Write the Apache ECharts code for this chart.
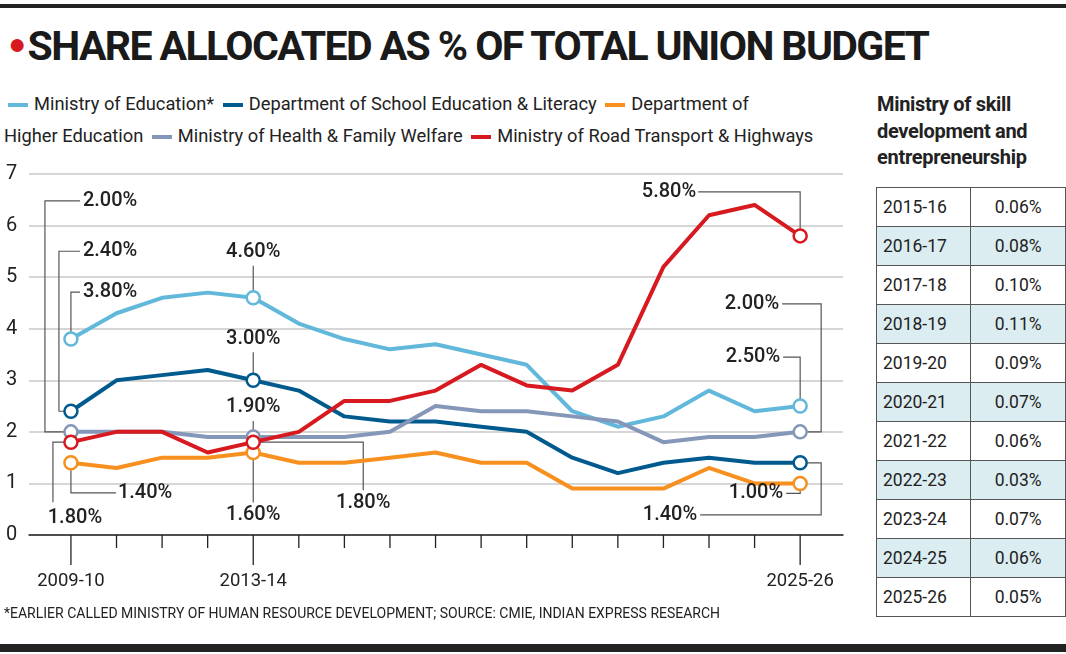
<!DOCTYPE html>
<html><head><meta charset="utf-8">
<script src="https://cdn.jsdelivr.net/npm/echarts@6/dist/echarts.min.js"></script>
<style>
body{margin:0;width:1066px;height:654px;background:#fff;position:relative;overflow:hidden;font-family:Roboto,sans-serif;color:#222}
#topbar{position:absolute;left:0;top:4px;width:1066px;height:4px;background:#222}
#botbar{position:absolute;left:0;top:644px;width:1066px;height:8px;background:#222}
#title{position:absolute;left:8px;top:22px;font:bold 41px Roboto,sans-serif;letter-spacing:-1.6px;color:#1a1a1a;white-space:nowrap}
#title span{color:#d71920;font-size:30px;vertical-align:6px;margin-right:3px}
#legend{position:absolute;left:4px;top:88px;width:850px;font-size:18.3px;line-height:32px;color:#222;white-space:nowrap}
#legend i{display:inline-block;width:20px;height:4px;vertical-align:middle;margin:0 6px 0 4px}
#chart{position:absolute;left:0;top:0;width:860px;height:654px}
#foot{position:absolute;left:4px;top:605px;font-size:14px;color:#222;white-space:nowrap}
#side{position:absolute;left:877px;top:91px;font-weight:bold;font-size:20px;line-height:26.5px;color:#222;letter-spacing:-0.3px}
table{position:absolute;left:876px;top:187px;border-collapse:collapse;font-size:17.5px}
td{border:1px solid #555;height:38px;padding:0 6px;color:#222}
td.v{text-align:center;width:90px}
td.y{width:90px}
tr.alt td{background:#dcedf2}
</style></head><body>
<div id="topbar"></div>
<div id="title"><span>●</span>SHARE ALLOCATED AS % OF TOTAL UNION BUDGET</div>
<div id="legend"></div>
<div id="chart"></div>
<div id="foot">*EARLIER CALLED MINISTRY OF HUMAN RESOURCE DEVELOPMENT; SOURCE: CMIE, INDIAN EXPRESS RESEARCH</div>
<div id="side">Ministry of skill<br>development and<br>entrepreneurship</div>
<table id="tbl"></table>
<div id="botbar"></div>
<script>
const years = ['2009-10','2010-11','2011-12','2012-13','2013-14','2014-15','2015-16','2016-17','2017-18','2018-19','2019-20','2020-21','2021-22','2022-23','2023-24','2024-25','2025-26'];
const tickLabels = {0:'2009-10',4:'2013-14',16:'2025-26'};
const education = [3.8,4.3,4.6,4.7,4.6,4.1,3.8,3.6,3.7,3.5,3.3,2.4,2.1,2.3,2.8,2.4,2.5];
const schoolEd = [2.4,3.0,3.1,3.2,3.0,2.8,2.3,2.2,2.2,2.1,2.0,1.5,1.2,1.4,1.5,1.4,1.4];
const higherEd = [1.4,1.3,1.5,1.5,1.6,1.4,1.4,1.5,1.6,1.4,1.4,0.9,0.9,0.9,1.3,1.0,1.0];
const health = [2.0,2.0,2.0,1.9,1.9,1.9,1.9,2.0,2.5,2.4,2.4,2.3,2.2,1.8,1.9,1.9,2.0];
const road = [1.8,2.0,2.0,1.6,1.8,2.0,2.6,2.6,2.8,3.3,2.9,2.8,3.3,5.2,6.2,6.4,5.8];
const skillYears = ['2015-16','2016-17','2017-18','2018-19','2019-20','2020-21','2021-22','2022-23','2023-24','2024-25','2025-26'];
const skillVals = ['0.06%','0.08%','0.10%','0.11%','0.09%','0.07%','0.06%','0.03%','0.07%','0.06%','0.05%'];

const seriesDefs = [
 {name:'Ministry of Education*', data:education, color:'#62b8da'},
 {name:'Department of School Education & Literacy', data:schoolEd, color:'#005a8e'},
 {name:'Department of Higher Education', data:higherEd, color:'#f7901e'},
 {name:'Ministry of Health & Family Welfare', data:health, color:'#8497b8'},
 {name:'Ministry of Road Transport & Highways', data:road, color:'#d71920'}
];
document.getElementById('legend').innerHTML = seriesDefs.map(s=>'<i style="background:'+s.color+'"></i>'+s.name.replace('of Higher','of<br>Higher')).join(' ');
document.getElementById('tbl').innerHTML = skillYears.map((y,i)=>'<tr class="'+(i%2?'alt':'')+'"><td class="y">'+y+'</td><td class="v">'+skillVals[i]+'</td></tr>').join('');

const annos = [
 [3,0,[[0,0],[-26,0],[-26,-231],[9,-231]],[12,-231],'left'],
 [1,0,[[0,0],[-12,0],[-12,-160],[9,-160]],[12,-160],'left'],
 [0,0,[[0,-7],[0,-47],[9,-47]],[12,-47],'left'],
 [0,4,[[0,-7],[0,-32]],[0,-46],'center'],
 [1,4,[[0,-7],[0,-28]],[0,-41],'center'],
 [3,4,[[0,-7],[0,-16]],[0,-30],'center'],
 [2,4,[[0,7],[0,50]],[0,63],'center'],
 [4,4,[[7,0],[110,0],[110,48]],[110,61],'center'],
 [4,0,[[-7,0],[-18,0],[-18,60]],[4,76],'center'],
 [2,0,[[0,7],[0,30],[45,30]],[47,30],'left'],
 [4,16,[[0,-7],[0,-44],[-102,-44]],[-104,-44],'right'],
 [3,16,[[7,0],[21,0],[21,-128],[-18,-128]],[-21,-128],'right'],
 [0,16,[[0,-7],[0,-49],[-17,-49]],[-20,-49],'right'],
 [1,16,[[7,0],[21,0],[21,52],[-100,52]],[-103,52],'right'],
 [2,16,[[0,7],[0,10],[-14,10]],[-17,10],'right']
];
const marked = {};
annos.forEach(a=>{marked[a[0]+'_'+a[1]]=true;});

const chart = echarts.init(document.getElementById('chart'));
const series = seriesDefs.map((s,si)=>({
  type:'line', name:s.name, z: si===4?5:3,
  data:s.data.map((v,i)=>marked[si+'_'+i]?{value:[i,v],symbol:'circle',symbolSize:13}:{value:[i,v],symbol:'none'}),
  lineStyle:{color:s.color,width:4}, itemStyle:{color:'#fff',borderColor:s.color,borderWidth:2.5},
  showSymbol:true, silent:true, animation:false
}));
chart.setOption({
  animation:false,
  grid:{left:29,right:17,top:174,bottom:119},
  xAxis:{type:'value',min:-0.92,max:16.94,axisLine:{show:true,lineStyle:{color:'#222',width:1.5}},axisTick:{show:false},axisLabel:{show:false},splitLine:{show:false}},
  yAxis:{type:'value',min:0,max:7,interval:1,axisLine:{show:false},axisTick:{show:false},
    axisLabel:{align:'left',margin:23,fontSize:20,color:'#222',fontFamily:'Roboto'},
    splitLine:{lineStyle:{color:'#c8c8c8',width:1.5}}},
  series:series
});
const g = [];
years.forEach((y,i)=>{
  const p = chart.convertToPixel({gridIndex:0},[i,0]);
  const long = tickLabels[i]!==undefined;
  g.push({type:'line',shape:{x1:p[0],y1:p[1],x2:p[0],y2:p[1]+(long?30:13)},style:{stroke:'#222',lineWidth:1.3}});
  if(long) g.push({type:'text',x:p[0],y:p[1]+46,style:{text:tickLabels[i],fontSize:18.5,fill:'#222',align:'center',verticalAlign:'middle',fontFamily:'Roboto'}});
});
annos.forEach(a=>{
  const v = seriesDefs[a[0]].data[a[1]];
  const p = chart.convertToPixel({gridIndex:0},[a[1],v]);
  g.push({type:'polyline',z:1,shape:{points:a[2].map(o=>[p[0]+o[0],p[1]+o[1]])},style:{stroke:'#555',lineWidth:1.2,fill:null}});
  g.push({type:'text',z:10,x:p[0]+a[3][0],y:p[1]+a[3][1],style:{text:v.toFixed(2)+'%',fontSize:20,fontWeight:500,fill:'#222',align:a[4],verticalAlign:'middle',fontFamily:'Roboto'}});
});
chart.setOption({graphic:g});
</script>
</body></html>
